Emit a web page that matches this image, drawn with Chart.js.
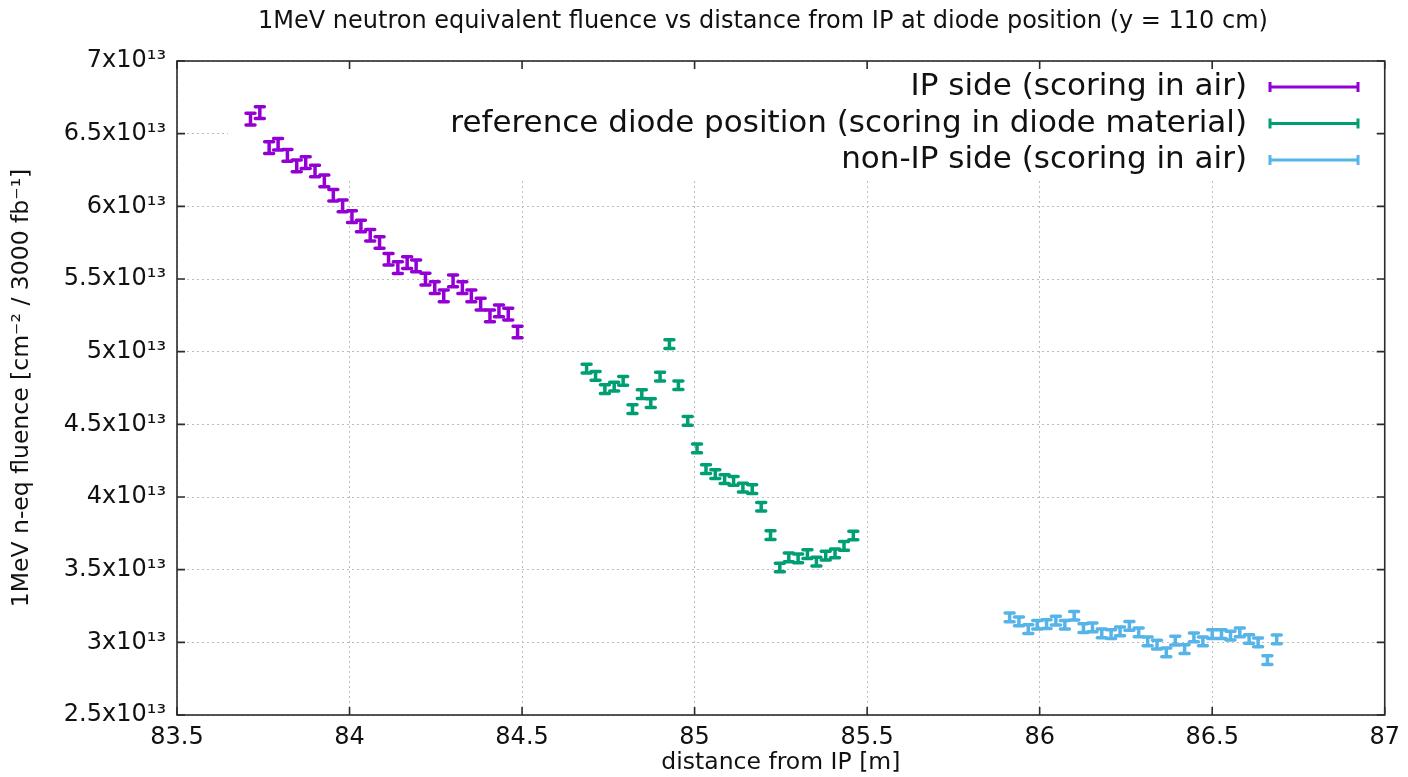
<!DOCTYPE html>
<html lang="en">
<head>
<meta charset="UTF-8">
<title>1MeV neutron equivalent fluence vs distance from IP</title>
<script src="https://cdn.jsdelivr.net/npm/chart.js"></script>
<style>
  html, body { margin: 0; padding: 0; background: #fff; }
  #wrap { width: 1408px; height: 777px; }
</style>
</head>
<body>
<div id="wrap"><canvas id="fluenceChart" width="1408" height="777"></canvas></div>
<script>
// values in units of 1e13 cm^-2 / 3000 fb^-1, distance in m
const xIP = [83.713, 83.740, 83.767, 83.793, 83.820, 83.847, 83.873, 83.900, 83.927, 83.953,
             83.980, 84.007, 84.033, 84.060, 84.087, 84.113, 84.140, 84.167, 84.193, 84.220,
             84.247, 84.273, 84.300, 84.327, 84.353, 84.380, 84.407, 84.433, 84.460, 84.487];
const yIP = [6.60, 6.645, 6.404, 6.427, 6.351, 6.278, 6.301, 6.243, 6.175, 6.076,
             6.003, 5.929, 5.865, 5.801, 5.751, 5.636, 5.578, 5.613, 5.590, 5.499,
             5.441, 5.384, 5.487, 5.441, 5.384, 5.327, 5.246, 5.281, 5.258, 5.135];
const eIP = [0.04, 0.04, 0.04, 0.04, 0.04, 0.04, 0.04, 0.04, 0.04, 0.04,
             0.04, 0.04, 0.04, 0.04, 0.04, 0.04, 0.04, 0.04, 0.04, 0.04,
             0.04, 0.04, 0.04, 0.04, 0.04, 0.04, 0.04, 0.04, 0.04, 0.04];

const xRef = [84.687, 84.713, 84.740, 84.767, 84.793, 84.820, 84.847, 84.873, 84.900, 84.927,
              84.953, 84.980, 85.007, 85.033, 85.060, 85.087, 85.113, 85.140, 85.167, 85.193,
              85.220, 85.247, 85.273, 85.300, 85.327, 85.353, 85.380, 85.407, 85.433, 85.460];
const yRef = [4.884, 4.834, 4.742, 4.760, 4.799, 4.605, 4.708, 4.646, 4.829, 5.052,
              4.769, 4.524, 4.334, 4.192, 4.157, 4.123, 4.111, 4.065, 4.054, 3.933,
              3.738, 3.515, 3.584, 3.577, 3.607, 3.556, 3.596, 3.612, 3.664, 3.735];
const eRef = [0.03, 0.03, 0.03, 0.03, 0.03, 0.03, 0.03, 0.03, 0.03, 0.03,
              0.03, 0.03, 0.03, 0.03, 0.03, 0.03, 0.03, 0.03, 0.03, 0.03,
              0.03, 0.03, 0.03, 0.03, 0.03, 0.03, 0.03, 0.03, 0.03, 0.03];

const xNon = [85.913, 85.940, 85.967, 85.993, 86.020, 86.047, 86.073, 86.100, 86.127, 86.153,
              86.180, 86.207, 86.233, 86.260, 86.287, 86.313, 86.340, 86.367, 86.393, 86.420,
              86.447, 86.473, 86.500, 86.527, 86.553, 86.580, 86.607, 86.633, 86.660, 86.687];
const yNon = [3.171, 3.144, 3.091, 3.121, 3.126, 3.149, 3.121, 3.183, 3.098, 3.103,
              3.061, 3.057, 3.075, 3.114, 3.068, 3.006, 2.984, 2.931, 3.011, 2.954,
              3.034, 3.006, 3.057, 3.057, 3.046, 3.068, 3.023, 3.000, 2.878, 3.020];
const eNon = [0.03, 0.03, 0.03, 0.03, 0.03, 0.03, 0.03, 0.03, 0.03, 0.03,
              0.03, 0.03, 0.03, 0.03, 0.03, 0.03, 0.03, 0.03, 0.03, 0.03,
              0.03, 0.03, 0.03, 0.03, 0.03, 0.03, 0.03, 0.03, 0.03, 0.03];

const seriesLabels = ['IP side (scoring in air)',
                      'reference diode position (scoring in diode material)',
                      'non-IP side (scoring in air)'];
const seriesColors = ['#9400d3', '#009e73', '#56b4e9'];

const xTickValues = [83.5, 84, 84.5, 85, 85.5, 86, 86.5, 87];
const yTickValues = [2.5, 3, 3.5, 4, 4.5, 5, 5.5, 6, 6.5, 7];

const chartTitle = '1MeV neutron equivalent fluence vs distance from IP at diode position (y = 110 cm)';

const FONT = "'DejaVu Sans', sans-serif";

function points(xs, ys) {
    return xs.map((x, i) => ({ x: x, y: ys[i] }));
}

// gnuplot style opaque key: hides the grid behind the legend
const keyBox = {
    id: 'keyBox',
    beforeDatasetsDraw(chart) {
        const a = chart.chartArea;
        const ctx = chart.ctx;
        ctx.save();
        ctx.fillStyle = '#fff';
        ctx.fillRect(228, a.top + 1, a.right - 229, 180 - a.top);
        ctx.restore();
    }
};

// vertical error bars with caps
const errorBars = {
    id: 'errorBars',
    afterDatasetsDraw(chart) {
        const ctx = chart.ctx;
        const xs = chart.scales.x, ys = chart.scales.y;
        chart.data.datasets.forEach((ds, i) => {
            ctx.save();
            ctx.strokeStyle = ds.borderColor;
            ctx.lineWidth = 3.5;
            ctx.lineCap = 'round';
            ds.data.forEach((p, j) => {
                const px = xs.getPixelForValue(p.x);
                const top = ys.getPixelForValue(p.y + ds.yErr[j]);
                const bot = ys.getPixelForValue(p.y - ds.yErr[j]);
                ctx.beginPath();
                ctx.moveTo(px, top); ctx.lineTo(px, bot);
                ctx.moveTo(px - 4.5, top); ctx.lineTo(px + 4.5, top);
                ctx.moveTo(px - 4.5, bot); ctx.lineTo(px + 4.5, bot);
                ctx.stroke();
            });
            ctx.restore();
        });
    }
};

// title, border with inward ticks on all four sides, and the key
const frameAndKey = {
    id: 'frameAndKey',
    afterDraw(chart) {
        const ctx = chart.ctx;
        const a = chart.chartArea;
        const xs = chart.scales.x, ys = chart.scales.y;
        ctx.save();

        ctx.fillStyle = '#111';
        ctx.font = '24px ' + FONT;
        ctx.textAlign = 'center';
        ctx.textBaseline = 'middle';
        ctx.fillText(chartTitle, 763, 22);

        ctx.strokeStyle = '#2b2b2b';
        ctx.lineWidth = 1.6;
        ctx.strokeRect(a.left, a.top, a.right - a.left, a.bottom - a.top);
        ctx.beginPath();
        xTickValues.forEach(v => {
            const px = xs.getPixelForValue(v);
            ctx.moveTo(px, a.bottom); ctx.lineTo(px, a.bottom - 8);
            ctx.moveTo(px, a.top); ctx.lineTo(px, a.top + 8);
        });
        yTickValues.forEach(v => {
            const py = ys.getPixelForValue(v);
            ctx.moveTo(a.left, py); ctx.lineTo(a.left + 8, py);
            ctx.moveTo(a.right, py); ctx.lineTo(a.right - 8, py);
        });
        ctx.stroke();

        // key
        ctx.font = '31px ' + FONT;
        ctx.textAlign = 'right';
        ctx.textBaseline = 'alphabetic';
        chart.data.datasets.forEach((ds, i) => {
            const ly = 87 + i * 36.5;
            ctx.fillStyle = '#111';
            ctx.fillText(ds.label, 1247, ly + 8);
            ctx.strokeStyle = ds.borderColor;
            ctx.lineWidth = 3;
            ctx.beginPath();
            ctx.moveTo(1270, ly); ctx.lineTo(1358, ly);
            ctx.moveTo(1270, ly - 5); ctx.lineTo(1270, ly + 5);
            ctx.moveTo(1358, ly - 5); ctx.lineTo(1358, ly + 5);
            ctx.stroke();
        });
        ctx.restore();
    }
};

new Chart(document.getElementById('fluenceChart'), {
    type: 'scatter',
    data: {
        datasets: [
            { label: seriesLabels[0], data: points(xIP, yIP), yErr: eIP, borderColor: seriesColors[0], backgroundColor: seriesColors[0] },
            { label: seriesLabels[1], data: points(xRef, yRef), yErr: eRef, borderColor: seriesColors[1], backgroundColor: seriesColors[1] },
            { label: seriesLabels[2], data: points(xNon, yNon), yErr: eNon, borderColor: seriesColors[2], backgroundColor: seriesColors[2] }
        ]
    },
    options: {
        responsive: false,
        animation: false,
        devicePixelRatio: 1,
        elements: { point: { radius: 0, hoverRadius: 0 } },
        layout: { padding: { top: 61, right: 23, bottom: 0, left: 0 } },
        plugins: {
            legend: { display: false },
            tooltip: { enabled: false },
            title: { display: false }
        },
        scales: {
            x: {
                type: 'linear',
                min: 83.5,
                max: 87,
                afterBuildTicks: s => { s.ticks = xTickValues.map(v => ({ value: v })); },
                afterFit: s => { s.height = 62; },
                ticks: {
                    color: '#111',
                    padding: 8,
                    maxRotation: 0,
                    font: { family: FONT, size: 24 },
                    callback: v => String(Math.round(v * 10) / 10)
                },
                grid: { color: '#bdbdbd', lineWidth: 1, drawTicks: false },
                border: { display: false, dash: [2, 3] },
                title: {
                    display: true,
                    text: 'distance from IP [m]',
                    color: '#111',
                    font: { family: FONT, size: 23.5 },
                    padding: { top: 0, bottom: 0 }
                }
            },
            y: {
                type: 'linear',
                min: 2.5,
                max: 7,
                afterBuildTicks: s => { s.ticks = yTickValues.map(v => ({ value: v })); },
                afterFit: s => { s.width = 177; },
                ticks: {
                    color: '#111',
                    padding: 11,
                    font: { family: FONT, size: 24 },
                    callback: v => (Math.round(v * 10) / 10) + 'x10\u00b9\u00b3'
                },
                grid: { color: '#bdbdbd', lineWidth: 1, drawTicks: false },
                border: { display: false, dash: [2, 3] },
                title: {
                    display: true,
                    text: '1MeV n-eq fluence [cm\u207b\u00b2 / 3000 fb\u207b\u00b9]',
                    color: '#111',
                    font: { family: FONT, size: 23.5 },
                    padding: { top: 8, bottom: 0 }
                }
            }
        }
    },
    plugins: [keyBox, errorBars, frameAndKey]
});
</script>
</body>
</html>
